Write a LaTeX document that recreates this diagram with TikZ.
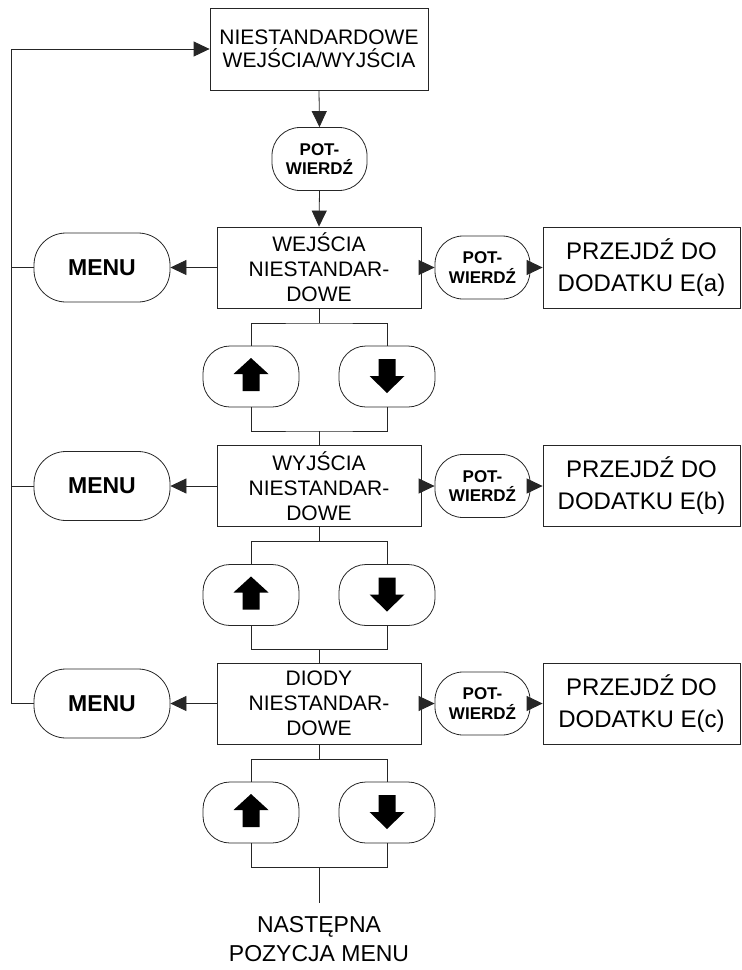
\documentclass[tikz,border=0pt]{standalone}
\usepackage{fontspec}
\setmainfont{Liberation Sans}
\usetikzlibrary{arrows.meta}
\tikzset{
  ln/.style={line width=0.8pt, draw=black!85},
  box/.style={ln, draw, inner sep=0pt, align=center, font=\fontsize{21}{25}\selectfont},
  topbox/.style={box, minimum width=218pt, minimum height=82pt, font=\fontsize{21}{23.5}\selectfont},
  mainbox/.style={box, minimum width=204pt, minimum height=81pt},
  gobox/.style={box, minimum width=197pt, minimum height=81pt, font=\fontsize{24}{32}\selectfont},
  potw/.style={box, rounded corners=28pt, minimum width=95pt, minimum height=63pt, font=\bfseries\fontsize{17}{19.5}\selectfont},
  menu/.style={box, rounded corners=32pt, minimum width=136pt, minimum height=69pt, font=\bfseries\fontsize{23}{25}\selectfont},
  btn/.style={box, rounded corners=27pt, minimum width=96pt, minimum height=61pt},
  arr/.style={ln, -{Triangle[length=16pt,width=15pt]}},
  plain/.style={ln},
  endtext/.style={align=center, inner sep=0pt, font=\fontsize{23}{29}\selectfont},
}
\begin{document}
\begin{tikzpicture}[x=1pt,y=-1pt]
\useasboundingbox (0,0) rectangle (742,970);

\node[topbox] (top) at (319,49) {NIESTANDARDOWE\\WEJŚCIA/WYJŚCIA};
\node[potw] (p0) at (319.5,159) {POT-\\WIERDŹ};
\coordinate (L) at (11,49);

\node[mainbox] (m1) at (319,267.5) {WEJŚCIA\\NIESTANDAR-\\DOWE};
\node[mainbox] (m2) at (319,486) {WYJŚCIA\\NIESTANDAR-\\DOWE};
\node[mainbox] (m3) at (319,703.5) {DIODY\\NIESTANDAR-\\DOWE};

\foreach \i/\cy/\lt in {1/267.5/a, 2/486/b, 3/703.5/c}{
  \node[menu] (menu\i) at (102,\cy) {MENU};
  \node[potw] (pp\i) at (482.5,\cy) {POT-\\WIERDŹ};
  \node[gobox] (go\i) at (641.5,\cy) {PRZEJDŹ DO\\DODATKU E(\lt)};
  \node[btn] (up\i) at (251,\cy+109) {};
  \node[btn] (dn\i) at (387,\cy+109) {};
  \coordinate (t\i) at (319,\cy+55.5);
  \coordinate (b\i) at (319,\cy+163.5);
  \draw[arr] (m\i.west) -- (menu\i.east);
  \draw[arr] (m\i.east) -- (pp\i.west);
  \draw[arr] (pp\i.east) -- (go\i.west);
  \draw[plain] (m\i.south) -- (t\i);
  \draw[plain] (up\i.north) |- (t\i) -| (dn\i.north);
  \draw[plain] (up\i.south) |- (b\i) -| (dn\i.south);
  \fill[black, shift={(up\i.center)}] (0,-18.5) -- (17.5,-2.5) -- (8.5,-2.5) -- (8.5,14.5) -- (-8.5,14.5) -- (-8.5,-2.5) -- (-17.5,-2.5) -- cycle;
  \fill[black, shift={(dn\i.center)}] (0,16.5) -- (17.5,-0.5) -- (8.5,-0.5) -- (8.5,-17.5) -- (-8.5,-17.5) -- (-8.5,-0.5) -- (-17.5,-0.5) -- cycle;
}

\draw[arr] (top.south) -- (p0.north);
\draw[arr] (p0.south) -- (m1.north);
\draw[plain] (b1) -- (m2.north);
\draw[plain] (b2) -- (m3.north);

\draw[arr] (menu3.west) -| (L) -- (top.west);
\draw[plain] (menu1.west) -- (menu1.west -| L);
\draw[plain] (menu2.west) -- (menu2.west -| L);

\coordinate (e) at (319,903);
\draw[plain] (b3) -- (e);
\node[endtext, anchor=north] (nx) at (319,916) {NASTĘPNA\\POZYCJA MENU};
\end{tikzpicture}
\end{document}
